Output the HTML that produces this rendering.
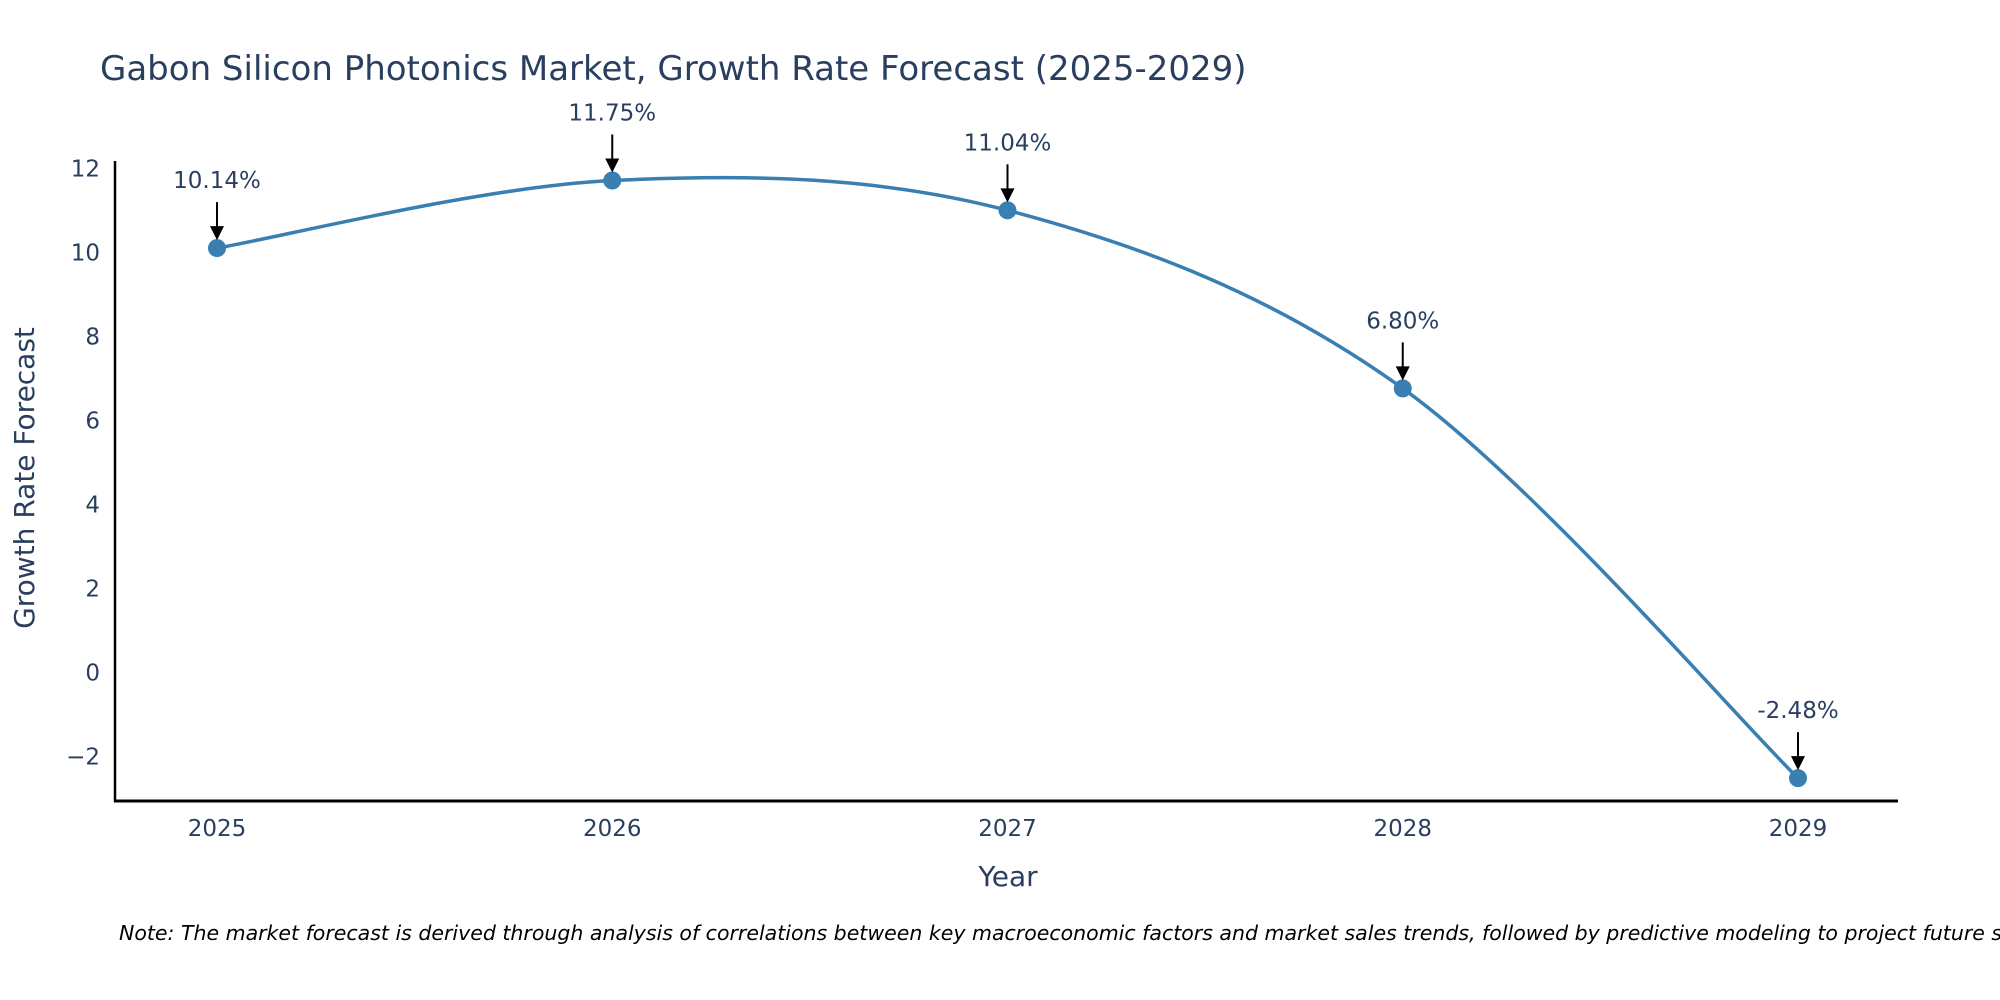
<!DOCTYPE html>
<html><head><meta charset="utf-8"><style>
body{margin:0;background:#fff;}
svg{display:block;font-family:"DejaVu Sans","Liberation Sans",sans-serif;}
</style></head><body>
<svg id="chart" width="2000" height="1000" viewBox="0 0 2000 1000">
<text x="100" y="80" font-size="34" fill="#2a3f5f">Gabon Silicon Photonics Market, Growth Rate Forecast (2025-2029)</text>
<g id="yticks"></g>
<g id="xticks"></g>
<line x1="115" y1="161" x2="115" y2="802" stroke="#000" stroke-width="2.5"/>
<line x1="114" y1="801" x2="1898" y2="801" stroke="#000" stroke-width="3"/>
<path id="line" fill="none" stroke="#3a7fb2" stroke-width="3.5"/>
<g id="marks"></g>
<g id="annots"></g>
<text x="26" y="478" font-size="28" fill="#2a3f5f" text-anchor="middle" transform="rotate(-90 26 478)" dominant-baseline="middle">Growth Rate Forecast</text>
<text x="1008" y="886" font-size="28" fill="#2a3f5f" text-anchor="middle">Year</text>
<text x="119" y="940" font-size="20.5" font-style="italic" fill="#000">Note: The market forecast is derived through analysis of correlations between key macroeconomic factors and market sales trends, followed by predictive modeling to project future sales.</text>
</svg>
<script>
const years = ["2025","2026","2027","2028","2029"];
const values = [10.14, 11.75, 11.04, 6.80, -2.48];
const yTicks = [-2, 0, 2, 4, 6, 8, 10, 12];
const labels = ["10.14%","11.75%","11.04%","6.80%","-2.48%"];

const NS = "http://www.w3.org/2000/svg";
function xScale(i){ return 217 + i * 395.25; }
function yScale(v){ return 674 - v * 42; }
function mk(tag, attrs, parent, text){
  const e = document.createElementNS(NS, tag);
  for (const k in attrs) e.setAttribute(k, attrs[k]);
  if (text !== undefined) e.textContent = text;
  parent.appendChild(e);
  return e;
}
const yt = document.getElementById('yticks');
yTicks.forEach(v => {
  const t = mk('text', {x: 100, y: yScale(v), 'font-size': 23, fill: '#2a3f5f', 'text-anchor': 'end', 'dominant-baseline': 'middle'}, yt, v < 0 ? '\u2212' + Math.abs(v) : String(v));
  
  
});
const xt = document.getElementById('xticks');
years.forEach((y, i) => {
  const t = mk('text', {x: xScale(i), y: 836, 'font-size': 23, fill: '#2a3f5f', 'text-anchor': 'middle'}, xt, y);
  
  
});
const pts = values.map((v, i) => [xScale(i), yScale(v)]);
let d = 'M' + pts[0][0] + ',' + pts[0][1];
const s = 1/6;
for (let i = 0; i < pts.length - 1; i++) {
  const p0 = pts[Math.max(i - 1, 0)], p1 = pts[i], p2 = pts[i + 1], p3 = pts[Math.min(i + 2, pts.length - 1)];
  const c1 = [p1[0] + (p2[0] - p0[0]) * s, p1[1] + (p2[1] - p0[1]) * s];
  const c2 = [p2[0] - (p3[0] - p1[0]) * s, p2[1] - (p3[1] - p1[1]) * s];
  d += ' C' + c1[0] + ',' + c1[1] + ' ' + c2[0] + ',' + c2[1] + ' ' + p2[0] + ',' + p2[1];
}
document.getElementById('line').setAttribute('d', d);
const mg = document.getElementById('marks');
const ag = document.getElementById('annots');
pts.forEach((p, i) => {
  const c = mk('circle', {cx: p[0], cy: p[1], r: 9, fill: '#3a7fb2'}, mg);
  
  
  const top = p[1] - 46, tip = p[1] - 8;
  const l = mk('line', {x1: p[0], y1: top, x2: p[0], y2: tip - 12, stroke: '#000', 'stroke-width': 2}, ag);
  
  
  const h = mk('polygon', {points: (p[0]-7)+','+(tip-14)+' '+(p[0]+7)+','+(tip-14)+' '+p[0]+','+tip, fill: '#000'}, ag);
  
  
  const t = mk('text', {x: p[0], y: top - 14, 'font-size': 23, fill: '#2a3f5f', 'text-anchor': 'middle'}, ag, labels[i]);
  
  
});
</script>
</body></html>
